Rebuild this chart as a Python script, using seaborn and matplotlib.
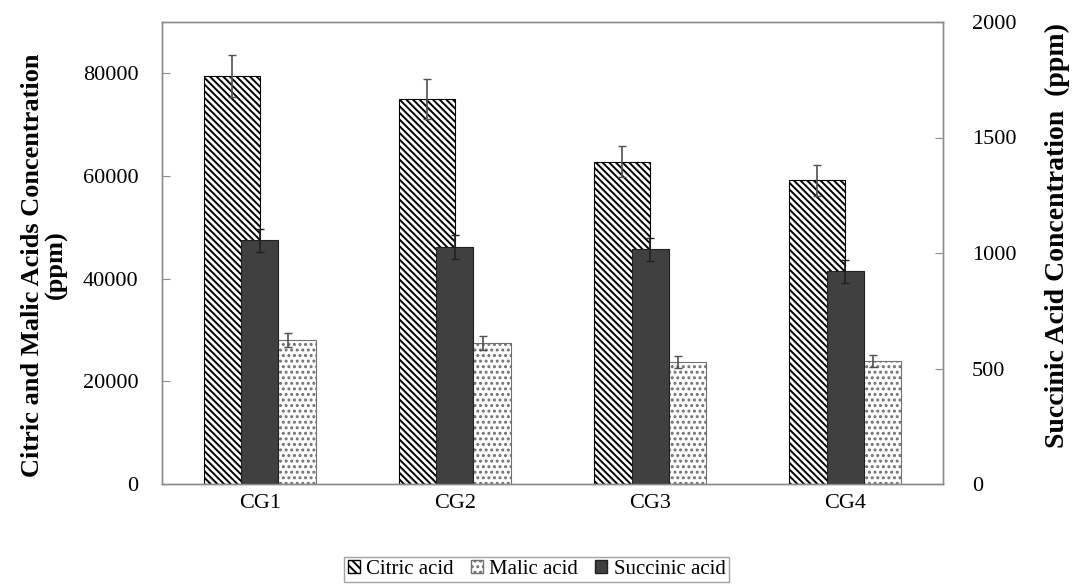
import matplotlib
matplotlib.use("Agg")
import matplotlib.pyplot as plt
import seaborn as sns
import pandas as pd
from matplotlib.patches import Patch

groups = ["CG1", "CG2", "CG3", "CG4"]
citric = [79500, 75000, 62800, 59200]
citric_err = [4100, 3800, 3050, 3000]
malic = [28000, 27500, 23800, 23900]
malic_err = [1400, 1400, 1200, 1200]
succinic = [1055, 1026, 1017, 920]
succinic_err = [50, 50, 50, 50]

sns.set_style("white")
plt.rcParams["font.family"] = ["Liberation Serif", "DejaVu Serif"]
plt.rcParams["hatch.linewidth"] = 1.4
plt.rcParams["text.color"] = "black"
plt.rcParams["axes.labelcolor"] = "black"
plt.rcParams["xtick.color"] = "black"
plt.rcParams["ytick.color"] = "black"

fig, ax = plt.subplots(figsize=(10.73, 5.86), dpi=100)
fig.subplots_adjust(left=162 / 1073, right=943 / 1073, top=1 - 22 / 586, bottom=1 - 484 / 586)

df = pd.DataFrame({
    "group": groups * 2,
    "acid": ["Citric acid"] * 4 + ["Malic acid"] * 4,
    "value": citric + malic,
})
sns.barplot(data=df, x="group", y="value", hue="acid", ax=ax, width=0.574,
            palette=["white", "white"], legend=False, saturation=1)

errs = citric_err + malic_err
for i, bar in enumerate(ax.patches[:8]):
    if i < 4:
        bar.set_hatch("\\\\\\\\\\")
        bar.set_edgecolor("black")
    else:
        bar.set_hatch("...")
        bar.set_edgecolor("#707070")
    bar.set_linewidth(0.8)
    cx = bar.get_x() + bar.get_width() / 2
    ax.errorbar(cx, bar.get_height(), yerr=errs[i], color="#505050", capsize=3, lw=1.2, capthick=1)

ax2 = ax.twinx()
sns.barplot(x=groups, y=succinic, ax=ax2, width=0.19, color="#404040", saturation=1,
            edgecolor="#202020", linewidth=0.8)
for i, bar in enumerate(ax2.patches):
    cx = bar.get_x() + bar.get_width() / 2
    ax2.errorbar(cx, bar.get_height(), yerr=succinic_err[i], color="#202020", capsize=3, lw=1.2, capthick=1)

ax.set_xlim(-0.5, 3.5)
ax.set_ylim(0, 90000)
ax.set_yticks([0, 20000, 40000, 60000, 80000])
ax2.set_ylim(0, 2000)
ax2.set_yticks([0, 500, 1000, 1500, 2000])

for a in (ax, ax2):
    for s in a.spines.values():
        s.set_color("#8c8c8c")
        s.set_linewidth(1)
ax.tick_params(axis="y", direction="in", length=6, color="#8c8c8c", labelsize=16, pad=17)
ax2.tick_params(axis="y", direction="in", length=6, color="#8c8c8c", labelsize=16, pad=21)
ax.tick_params(axis="x", length=0, labelsize=16, pad=7)

ax.set_xlabel("")
ax.set_ylabel("Citric and Malic Acids Concentration\n(ppm)", fontsize=19, fontweight="bold",
              linespacing=1.0)
ax.yaxis.set_label_coords(-0.121, 0.474)
ax2.set_ylabel("Succinic Acid Concentration  (ppm)", fontsize=20, fontweight="bold", rotation=90)
ax2.yaxis.set_label_coords(1.131, 0.537)

handles = [
    Patch(facecolor="white", edgecolor="black", hatch="\\\\\\\\", label="Citric acid"),
    Patch(facecolor="white", edgecolor="#707070", hatch="...", label="Malic acid"),
    Patch(facecolor="#404040", edgecolor="#202020", label="Succinic acid"),
]
fig.legend(handles=handles, loc="upper center", bbox_to_anchor=(0.5, 1 - 557 / 586), ncol=3,
           fontsize=15, frameon=True, fancybox=False, edgecolor="#8c8c8c",
           handlelength=0.6, handleheight=0.6, handletextpad=0.3, columnspacing=0.8,
           borderpad=0.15, borderaxespad=0)

fig.savefig("out.png", dpi=100)
